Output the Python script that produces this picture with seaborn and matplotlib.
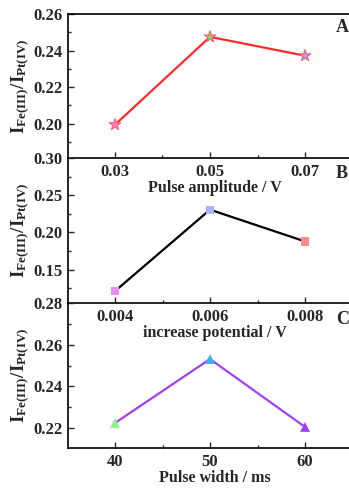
import matplotlib
matplotlib.use("Agg")
import matplotlib.pyplot as plt
import seaborn as sns
import numpy as np
import pandas as pd
from matplotlib.ticker import MultipleLocator, FixedLocator, FixedFormatter

# ---- data ----
amp_x = [0.03, 0.05, 0.07]
amp_y = [0.1995, 0.2475, 0.2372]
inc_x = [0.004, 0.006, 0.008]
inc_y = [0.1210, 0.2305, 0.1878]
wid_x = [40, 50, 60]
wid_y = [0.2224, 0.2531, 0.2205]

amp_xticks = ["0.03", "0.05", "0.07"]
inc_xticks = ["0.004", "0.006", "0.008"]
wid_xticks = ["40", "50", "60"]
amp_yticks = [0.20, 0.22, 0.24, 0.26]
inc_yticks = [0.15, 0.20, 0.25, 0.30]
wid_yticks = [0.22, 0.24, 0.26, 0.28]
amp_yticklabels = ["0.20", "0.22", "0.24", "0.26"]
inc_yticklabels = ["0.15", "0.20", "0.25", "0.30"]
wid_yticklabels = ["0.22", "0.24", "0.26", "0.28"]

xlabels = ["Pulse amplitude / V", "increase potential / V", "Pulse width / ms"]
panel_letters = ["A", "B", "C"]
ylabel = r"$\mathbf{I_{Fe(III)}/I_{Pt(IV)}}$"

sns.set_style("ticks")
plt.rcParams["font.family"] = ["Liberation Serif", "DejaVu Serif"]
plt.rcParams["font.weight"] = "bold"
plt.rcParams["mathtext.fontset"] = "custom"
plt.rcParams["mathtext.rm"] = "Liberation Serif:bold"
plt.rcParams["mathtext.bf"] = "Liberation Serif:bold"
plt.rcParams["mathtext.it"] = "Liberation Serif:bold"

W, H = 349, 488
fig = plt.figure(figsize=(W / 100, H / 100), dpi=100)

def frac_rect(top_px, bot_px, left_px=68, right_px=362):
    return [left_px / W, 1 - bot_px / H, (right_px - left_px) / W, (bot_px - top_px) / H]

axA = fig.add_axes(frac_rect(14, 158))
axB = fig.add_axes(frac_rect(158, 303))
axC = fig.add_axes(frac_rect(303, 448))

panels = [
    dict(ax=axA, x=amp_x, y=amp_y, xt=amp_xticks, yt=amp_yticks, ytl=amp_yticklabels,
         xlim=(0.03 - 47 / 95 * 0.02, 0.07 + 57 / 95 * 0.02), ylim=(0.1813, 0.2600),
         xminor=0.01, yminor=0.01, line="#ff2a2a", marker="*",
         faces=["#ff86c8", "#8fd66a", "#a8a6f0"], edge="#ff5a6a", s=75),
    dict(ax=axB, x=inc_x, y=inc_y, xt=inc_xticks, yt=inc_yticks, ytl=inc_yticklabels,
         xlim=(0.004 - 47 / 95 * 0.002, 0.008 + 57 / 95 * 0.002), ylim=(0.1050, 0.3000),
         xminor=0.001, yminor=0.025, line="#000000", marker="s",
         faces=["#f08af5", "#a9b3ff", "#ff8a8a"], edge="none", s=36),
    dict(ax=axC, x=wid_x, y=wid_y, xt=wid_xticks, yt=wid_yticks, ytl=wid_yticklabels,
         xlim=(40 - 47 / 95 * 10, 60 + 57 / 95 * 10), ylim=(0.2104, 0.2800),
         xminor=5, yminor=0.01, line="#a040f5", marker="^",
         faces=["#90f090", "#3fb0f5", "#a040f0"], edge="none", s=50),
]

for i, p in enumerate(panels):
    ax = p["ax"]
    df = pd.DataFrame({"x": p["x"], "y": p["y"], "c": [str(v) for v in p["x"]]})
    sns.lineplot(data=df, x="x", y="y", ax=ax, color=p["line"], lw=1.6, zorder=2)
    sns.scatterplot(data=df, x="x", y="y", hue="c", palette=p["faces"], marker=p["marker"],
                    s=p["s"], edgecolor=p["edge"], linewidth=0.8 if p["edge"] != "none" else 0,
                    legend=False, ax=ax, zorder=3)
    ax.set_xlim(*p["xlim"])
    ax.set_ylim(*p["ylim"])
    ax.xaxis.set_major_locator(FixedLocator(p["x"]))
    ax.xaxis.set_major_formatter(FixedFormatter(p["xt"]))
    ax.yaxis.set_major_locator(FixedLocator(p["yt"]))
    ax.yaxis.set_major_formatter(FixedFormatter(p["ytl"]))
    ax.xaxis.set_minor_locator(MultipleLocator(p["xminor"]))
    ax.yaxis.set_minor_locator(MultipleLocator(p["yminor"]))
    ax.tick_params(axis="both", which="major", direction="in", length=4, width=1.0,
                   labelsize=12, pad=4)
    ax.tick_params(axis="both", which="minor", direction="in", length=2.5, width=1.0)
    ax.tick_params(axis="x", which="both", top=False)
    ax.tick_params(axis="y", which="both", right=False)
    for lab in ax.get_xticklabels() + ax.get_yticklabels():
        lab.set_fontweight("bold")
    ax.set_xlabel(xlabels[i], fontsize=11.5, fontweight="bold", labelpad=0)
    ax.set_ylabel(ylabel, fontsize=13.5, labelpad=2)
    ax.yaxis.set_label_coords(-0.125, 0.5)
    for s in ax.spines.values():
        s.set_linewidth(1.2)
        s.set_color("black")
    ax.spines["right"].set_visible(False)
    if i > 0:
        ax.spines["top"].set_visible(False)
    ax.set_facecolor("none")
    ax.patch.set_alpha(0)

fig.text(336 / W, 1 - 28 / H, "A", fontsize=13, fontweight="bold", va="center", ha="left")
fig.text(336 / W, 1 - 173 / H, "B", fontsize=13, fontweight="bold", va="center", ha="left")
fig.text(336 / W, 1 - 319 / H, "C", fontsize=13, fontweight="bold", va="center", ha="left")

fig.savefig("out.png", dpi=100, facecolor="white")
